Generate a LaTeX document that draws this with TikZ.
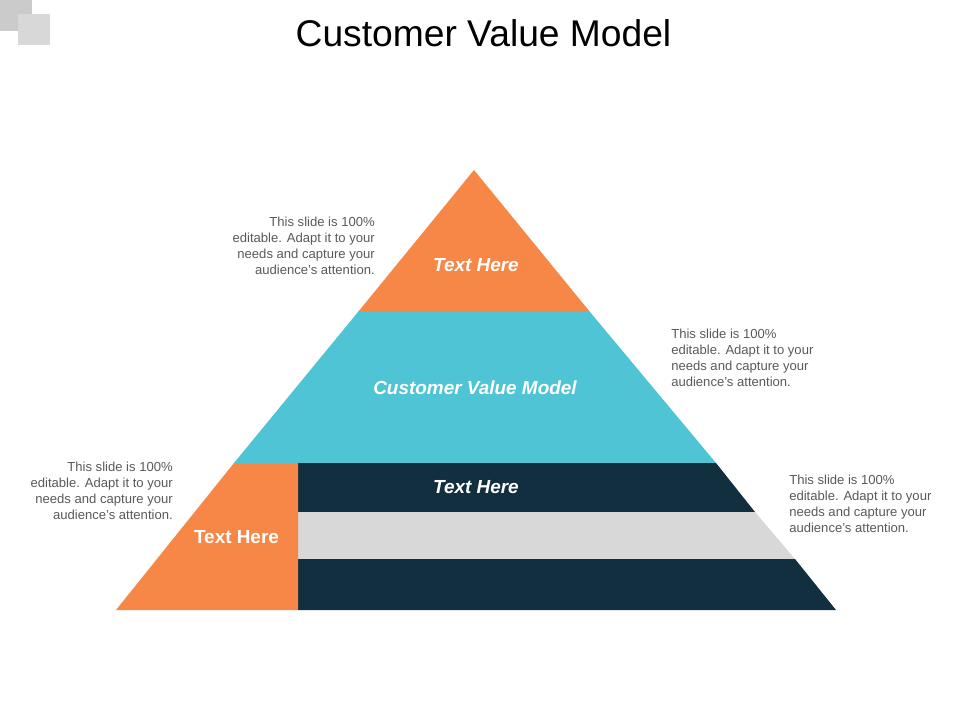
\documentclass[tikz,border=0pt]{standalone}
\usepackage{fontspec}
\setmainfont{Liberation Sans}
\definecolor{orangeband}{HTML}{F68746}
\definecolor{tealband}{HTML}{4FC4D4}
\definecolor{navyband}{HTML}{122F40}
\definecolor{greyband}{HTML}{D8D8D8}
\definecolor{bodygrey}{HTML}{595959}
\tikzset{
	body/.style={inner sep=0pt, text=bodygrey, font=\fontsize{9.8pt}{12pt}\selectfont, align=#1},
	head/.style={inner sep=0pt, text=white, font=\fontsize{14.2pt}{16pt}\selectfont\bfseries},
	heads/.style={head, font=\fontsize{14.2pt}{16pt}\selectfont\bfseries\itshape},
}
\begin{document}
	\begin{tikzpicture}[x=0.75pt, y=-0.75pt]
		\useasboundingbox (0,0) rectangle (960,720);
		
		\coordinate (apex) at (474,170);
		\coordinate (l1) at (358,312);
		\coordinate (r1) at (590,312);
		\coordinate (l2) at (234,463);
		\coordinate (m2) at (298,463);
		\coordinate (r2) at (716,463);
		\coordinate (m3) at (298,512);
		\coordinate (r3) at (755,512);
		\coordinate (m4) at (298,559);
		\coordinate (r4) at (795,559);
		\coordinate (l5) at (116,610);
		\coordinate (m5) at (298,610);
		\coordinate (r5) at (836,610);
		
		\fill [greyband!85!gray] (0,0) rectangle (32,31);
		\fill [greyband] (18,14) rectangle (50,45);
		
		\fill [orangeband] (apex) -- (r1) -- (l1) -- cycle;
		\fill [tealband] (l1) -- (r1) -- (r2) -- (l2) -- cycle;
		\fill [navyband] (m2) -- (r2) -- (r3) -- (m3) -- cycle;
		\fill [greyband] (m3) -- (r3) -- (r4) -- (m4) -- cycle;
		\fill [navyband] (m4) -- (r4) -- (r5) -- (m5) -- cycle;
		\fill [orangeband] (l2) -- (m2) -- (m5) -- (l5) -- cycle;
		
		\node [inner sep=0pt, font=\fontsize{27.9pt}{32pt}\selectfont] (title) at (483.5,33.5) {Customer Value Model};
		\node [heads] (top) at (476,265.5) {Text Here};
		\node [heads] (middle) at (475,387.5) {Customer Value Model};
		\node [heads] (band) at (476,487.5) {Text Here};
		\node [head] (side) at (236.5,537.5) {Text Here};
		
		\node [body=right, anchor=north east] (notea) at (375,216.5) {This slide is 100\%\\editable. Adapt it to your\\needs and capture your\\audience's attention.};
		\node [body=left, anchor=north west] (noteb) at (671,328.5) {This slide is 100\%\\editable. Adapt it to your\\needs and capture your\\audience's attention.};
		\node [body=right, anchor=north east] (notec) at (173,461.5) {This slide is 100\%\\editable. Adapt it to your\\needs and capture your\\audience's attention.};
		\node [body=left, anchor=north west] (noted) at (789,474.5) {This slide is 100\%\\editable. Adapt it to your\\needs and capture your\\audience's attention.};
		
	\end{tikzpicture}
\end{document}
